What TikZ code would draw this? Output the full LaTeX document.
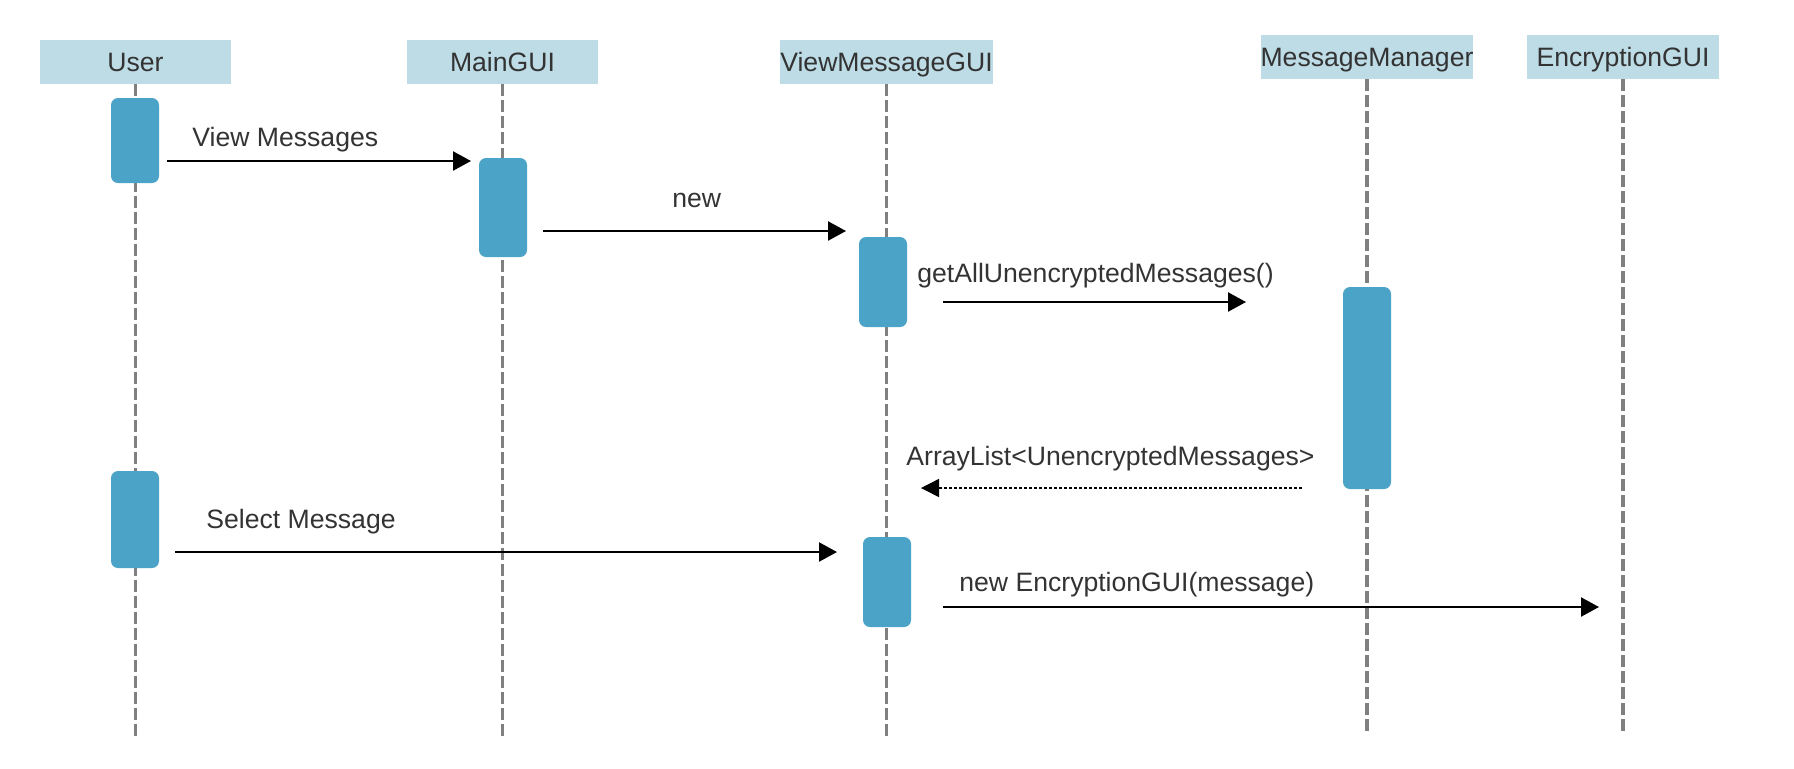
\documentclass[tikz,border=0pt]{standalone}
\usepackage{fontspec}
\setmainfont{Liberation Sans}
\usetikzlibrary{arrows.meta}
\definecolor{hdrfill}{RGB}{190,220,230}
\definecolor{actfill}{RGB}{75,163,199}
\definecolor{txtgray}{RGB}{51,51,51}
\definecolor{lifegray}{RGB}{128,128,128}
\tikzset{
  hdr/.style={rectangle, fill=hdrfill, draw=none, inner sep=0pt, minimum height=22pt,
    text=txtgray, font=\fontsize{13.3pt}{16pt}\selectfont, text height=9.5pt, text depth=0pt},
  act/.style={rectangle, rounded corners=3.5pt, fill=actfill, draw=none, minimum width=24pt, inner sep=0pt},
  life/.style={draw=lifegray, line width=1.75pt, dash pattern=on 6pt off 2pt},
  msg/.style={draw=black, line width=1.15pt, -{Triangle[length=9pt,width=9.5pt]}},
  ret/.style={draw=black, line width=0.75pt, dash pattern=on 1.5pt off 1pt, -{Triangle[length=9pt,width=9pt]}},
  lbl/.style={anchor=base west, inner sep=0pt, text=txtgray, font=\fontsize{13.3pt}{16pt}\selectfont}
}
\begin{document}
\begin{tikzpicture}[x=0.5pt,y=-0.5pt]
\useasboundingbox (0,0) rectangle (1794,768);
% headers
\node[hdr, minimum width=95.5pt] (u) at (135.5,62) {User};
\node[hdr, minimum width=95.5pt] (m) at (502.5,62) {MainGUI};
\node[hdr, minimum width=105.5pt] (v) at (886.5,62) {ViewMessageGUI};
\node[hdr, minimum width=106pt] (mm) at (1367,57) {MessageManager};
\node[hdr, minimum width=96pt] (e) at (1623,57) {EncryptionGUI};
% lifeline ends
\coordinate (uend) at (135.5,740);
\coordinate (mend) at (502.5,740);
\coordinate (vend) at (886.5,740);
\coordinate (mmend) at (1367,735);
\coordinate (eend) at (1623,735);
\draw[life] (u.south) -- (uend);
\draw[life] (m.south) -- (mend);
\draw[life] (v.south) -- (vend);
\draw[life] (mm.south) -- (mmend);
\draw[life] (e.south) -- (eend);
% activations
\node[act, minimum height=42.5pt] (u1) at (135,140.5) {};
\node[act, minimum height=49.5pt] (m1) at (503,207.5) {};
\node[act, minimum height=45pt] (v1) at (883,282) {};
\node[act, minimum height=101pt] (mm1) at (1367,388) {};
\node[act, minimum height=48.5pt] (u2) at (135,519.5) {};
\node[act, minimum height=45pt] (v2) at (887,582) {};
% message endpoints
\coordinate (a1s) at (167,161);  \coordinate (a1e) at (471,161);
\coordinate (a2s) at (543,231);  \coordinate (a2e) at (846,231);
\coordinate (a3s) at (943,302);  \coordinate (a3e) at (1246,302);
\coordinate (a4s) at (1302,488); \coordinate (a4e) at (921,488);
\coordinate (a5s) at (175,552);  \coordinate (a5e) at (837,552);
\coordinate (a6s) at (943,607);  \coordinate (a6e) at (1599,607);
\draw[msg] (a1s) -- (a1e);
\draw[msg] (a2s) -- (a2e);
\draw[msg] (a3s) -- (a3e);
\draw[ret] (a4s) -- (a4e);
\draw[msg] (a5s) -- (a5e);
\draw[msg] (a6s) -- (a6e);
% labels
\node[lbl] (l1) at (192,146) {View Messages};
\node[lbl] (l2) at (672,207) {new};
\node[lbl] (l3) at (917,282) {getAllUnencryptedMessages()};
\node[lbl] (l4) at (906,465) {ArrayList<UnencryptedMessages>};
\node[lbl] (l5) at (206,528) {Select Message};
\node[lbl] (l6) at (959,591) {new EncryptionGUI(message)};
\end{tikzpicture}
\end{document}
